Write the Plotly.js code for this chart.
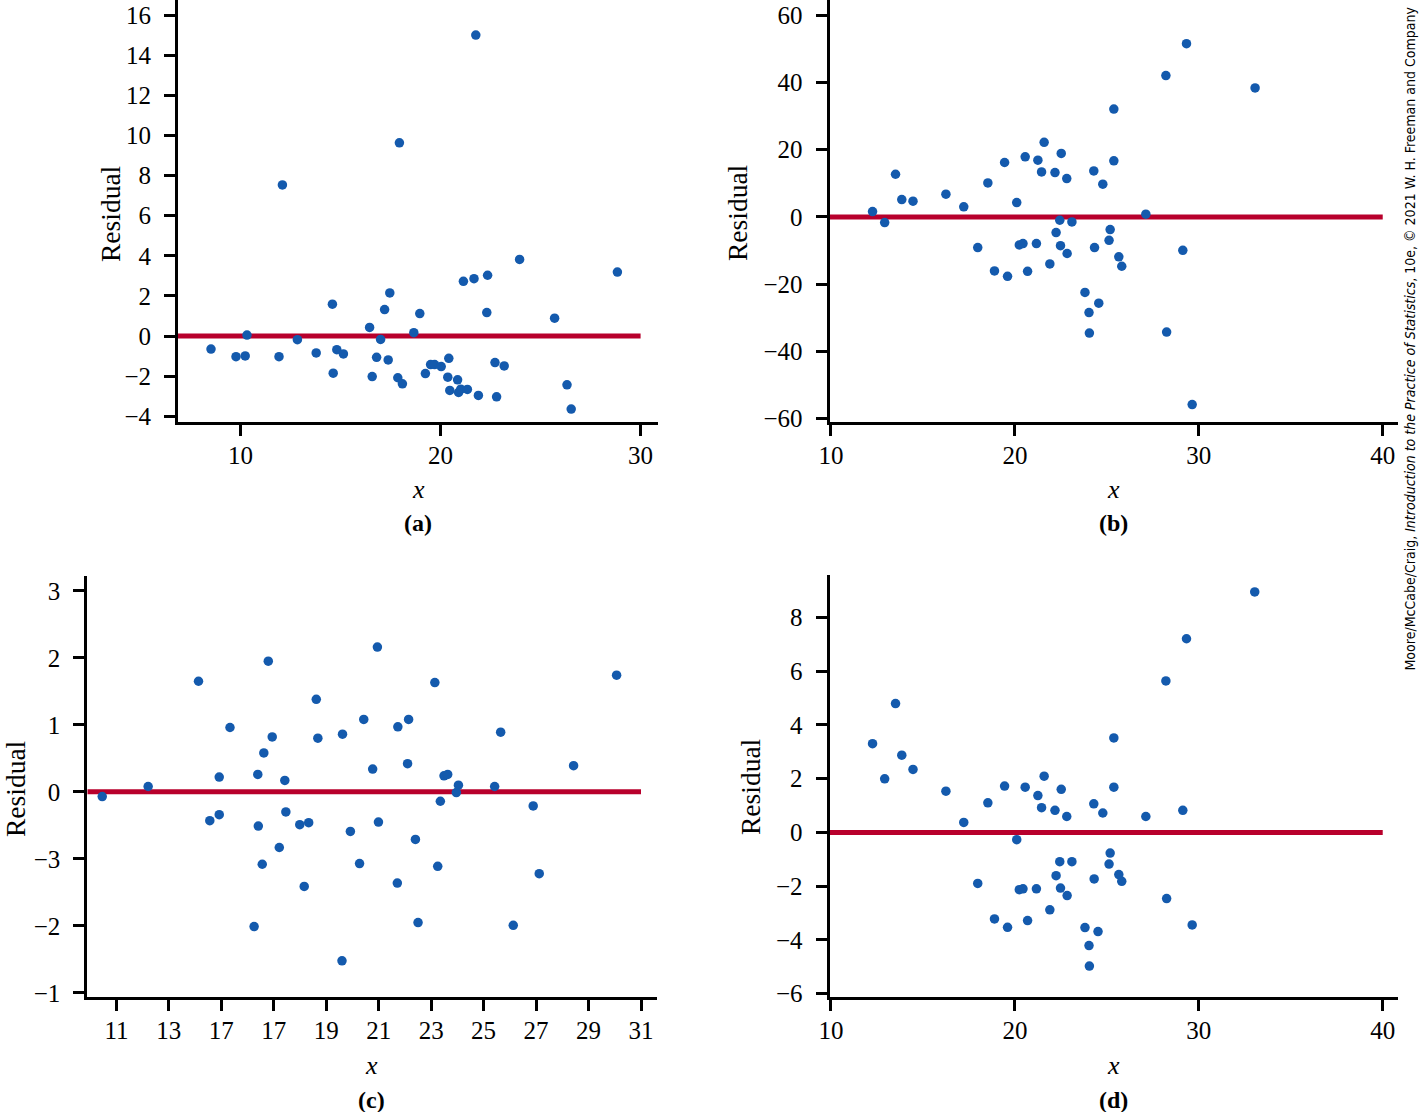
<!DOCTYPE html>
<html>
<head>
<meta charset="utf-8">
<script src="https://cdn.plot.ly/plotly-3.0.1.min.js"></script>
<style>html,body{margin:0;padding:0;background:#fff;}#chart{width:1423px;height:1112px;}</style>
</head>
<body>
<div id="chart"></div>
<script>
// ---------- Panel (a) ----------
const aX = [21.76,17.94,12.09,23.95,28.84,21.14,21.67,22.35,17.46,14.59,17.20,18.96,22.31,25.70,16.45,18.66,10.32,12.84,17.00,8.52,9.77,10.23,11.92,13.78,14.81,15.14,16.80,17.38,14.63,16.58,17.86,18.09,19.24,19.50,19.70,20.03,20.41,20.36,20.85,20.46,20.90,21.01,21.34,21.89,22.72,23.18,22.80,26.32,26.53];
const aY = [15.00,9.63,7.53,3.82,3.19,2.73,2.86,3.03,2.15,1.59,1.32,1.12,1.17,0.89,0.43,0.17,0.05,-0.18,-0.17,-0.65,-1.03,-0.99,-1.03,-0.84,-0.68,-0.89,-1.06,-1.19,-1.85,-2.02,-2.08,-2.38,-1.87,-1.42,-1.42,-1.52,-1.11,-2.05,-2.18,-2.71,-2.81,-2.65,-2.66,-2.96,-1.32,-1.49,-3.03,-2.43,-3.64];

// ---------- Panel (b) ----------
const bX = [29.33,28.21,33.06,25.38,21.59,20.56,21.25,22.52,19.44,25.38,13.51,21.45,22.18,22.82,24.29,24.78,18.53,16.25,13.85,14.46,17.22,20.10,12.26,27.12,12.92,22.44,23.10,22.24,25.18,25.12,17.98,20.24,20.44,21.17,22.48,22.84,24.33,25.65,25.81,21.90,18.89,19.60,20.69,29.13,23.81,24.56,24.03,24.05,28.25,29.64];
const bY = [51.6,42.1,38.4,32.1,22.2,17.9,16.9,18.9,16.2,16.7,12.7,13.4,13.2,11.4,13.7,9.75,10.1,6.77,5.17,4.68,2.99,4.28,1.59,0.80,-1.69,-1.0,-1.49,-4.68,-3.78,-6.97,-9.15,-8.36,-7.96,-7.96,-8.56,-10.9,-9.15,-11.9,-14.7,-14.0,-16.1,-17.7,-16.2,-9.95,-22.5,-25.7,-28.5,-34.6,-34.3,-55.9];

// ---------- Panel (c) ----------
const cX = [20.95,16.79,14.13,23.14,30.07,18.62,20.43,22.14,21.73,15.33,16.94,18.68,19.62,25.65,16.62,22.10,20.77,28.43,14.92,16.39,17.42,23.49,23.63,24.04,12.21,25.42,10.46,23.96,23.35,26.89,17.46,14.56,14.92,16.41,17.99,18.33,20.99,19.92,22.40,17.21,16.56,20.27,23.25,27.12,18.16,21.71,16.25,22.50,26.13,19.60];
const cY = [2.16,1.95,1.65,1.63,1.74,1.38,1.08,1.08,0.97,0.96,0.82,0.80,0.86,0.89,0.58,0.42,0.34,0.39,0.22,0.26,0.17,0.24,0.26,0.10,0.08,0.08,-0.07,-0.01,-0.14,-0.21,-0.30,-0.43,-0.34,-0.51,-0.49,-0.46,-0.45,-0.59,-0.71,-0.83,-1.08,-1.07,-1.11,-1.22,-1.41,-1.36,-2.01,-1.95,-1.99,-2.52];

// ---------- Panel (d) ----------
const dX = [33.04,29.33,28.21,13.51,25.38,12.26,13.85,14.46,12.92,21.59,16.25,19.44,20.56,22.52,25.38,21.25,18.53,21.45,22.18,22.82,24.29,24.78,27.12,29.13,17.22,20.10,25.18,22.44,23.10,25.12,22.24,25.65,25.81,17.98,24.31,20.24,20.44,21.17,22.48,22.84,21.90,28.25,18.89,19.60,20.69,29.64,23.81,24.52,24.03,24.05];
const dY = [8.94,7.20,5.63,4.79,3.51,3.30,2.87,2.34,1.99,2.09,1.53,1.72,1.68,1.60,1.68,1.37,1.10,0.92,0.82,0.59,1.06,0.72,0.59,0.82,0.37,-0.27,-0.77,-1.09,-1.09,-1.18,-1.61,-1.57,-1.82,-1.90,-1.73,-2.13,-2.10,-2.10,-2.07,-2.35,-2.88,-2.46,-3.22,-3.53,-3.28,-3.44,-3.54,-3.69,-4.21,-4.97];

// Zero reference lines (x extent in data units, y = 0)
const refA = [6.87, 30];
const refB = [9.92, 40];
const refC = [9.89, 31];
const refD = [9.92, 40];
const refY = [0, 0];

// Tick labels
const aXTicks = [10, 20, 30];
const bXTicks = [10, 20, 30, 40];
const cXTickVals = [11, 13, 15, 17, 19, 21, 23, 25, 27, 29, 31];
const cXTickText = ['11', '13', '17', '17', '19', '21', '23', '25', '27', '29', '31'];
const cYTickVals = [3, 2, 1, 0, -1, -2, -3];
const cYTickText = ['3', '2', '1', '0', '\u22123', '\u22122', '\u22121'];
const panelLabels = ['(a)', '(b)', '(c)', '(d)'];
const xTitle = 'x';
const yTitle = 'Residual';
const credit = 'Moore/McCabe/Craig, <i>Introduction to the Practice of Statistics</i>, 10e, \u00a9 2021 W. H. Freeman and Company';

const W = 1423, H = 1112;
const dotColor = '#145aad';
const redColor = '#b8002c';
const serif = 'Liberation Serif';

function refTrace(xs, xa, ya) {
  return {x: xs, y: refY, xaxis: xa, yaxis: ya, mode: 'lines', type: 'scatter',
          line: {color: redColor, width: 5}, hoverinfo: 'skip', showlegend: false};
}
function dotTrace(xs, ys, xa, ya) {
  return {x: xs, y: ys, xaxis: xa, yaxis: ya, mode: 'markers', type: 'scatter',
          marker: {color: dotColor, size: 9.5, line: {width: 0}}, showlegend: false, cliponaxis: false};
}

const data = [
  refTrace(refA, 'x', 'y'), dotTrace(aX, aY, 'x', 'y'),
  refTrace(refB, 'x2', 'y2'), dotTrace(bX, bY, 'x2', 'y2'),
  refTrace(refC, 'x3', 'y3'), dotTrace(cX, cY, 'x3', 'y3'),
  refTrace(refD, 'x4', 'y4'), dotTrace(dX, dY, 'x4', 'y4')
];

function ax(extra) {
  return Object.assign({
    showgrid: false, zeroline: false, showline: true, linecolor: '#000', linewidth: 3,
    ticks: 'outside', ticklen: 11, tickwidth: 3, tickcolor: '#000',
    tickfont: {family: serif, size: 25, color: '#000'}, mirror: false, fixedrange: true
  }, extra);
}
function xax(extra) { return ax(Object.assign({ticklabelstandoff: -2}, extra)); }
function yax(extra) { return ax(Object.assign({ticklabelstandoff: 8}, extra)); }

const px = (v) => v / W;
const py = (v) => 1 - v / H;

const layout = {
  width: W, height: H,
  margin: {l: 0, r: 0, t: 0, b: 0, pad: 0},
  paper_bgcolor: '#fff', plot_bgcolor: '#fff',
  font: {family: serif, size: 24, color: '#000'},
  showlegend: false,
  xaxis: xax({domain: [px(178), px(658)], range: [6.87, 30.87], tickvals: aXTicks, anchor: 'y'}),
  yaxis: yax({domain: [py(421.7), py(0)], range: [-4.27, 16.75], tick0: 0, dtick: 2, anchor: 'x'}),
  xaxis2: xax({domain: [px(829.5), px(1398)], range: [9.92, 40.83], tickvals: bXTicks, anchor: 'y2'}),
  yaxis2: yax({domain: [py(421.7), py(0)], range: [-61.0, 64.6], tick0: 0, dtick: 20, anchor: 'x2'}),
  xaxis3: xax({domain: [px(87.3), px(657)], range: [9.89, 31.61], tickvals: cXTickVals, ticktext: cXTickText, anchor: 'y3'}),
  yaxis3: yax({domain: [py(997), py(576)], range: [-3.06, 3.22], tickvals: cYTickVals, ticktext: cYTickText, anchor: 'x3'}),
  xaxis4: xax({domain: [px(829.5), px(1398)], range: [9.92, 40.83], tickvals: bXTicks, anchor: 'y4'}),
  yaxis4: yax({domain: [py(996.7), py(575)], range: [-6.11, 9.57], tick0: 0, dtick: 2, anchor: 'x4'}),
  annotations: []
};

const titleFont = {family: serif, size: 27.5, color: '#000'};
const xTitleFont = {family: serif, size: 26, color: '#000'};
const labFont = {family: serif, size: 24, color: '#000'};
const panels = [
  {cx: 418, xy: 490, ly: 523, rx: 110, ry: 214},
  {cx: 1113.7, xy: 490, ly: 523, rx: 737, ry: 212},
  {cx: 372, xy: 1065, ly: 1100, rx: 15, ry: 789},
  {cx: 1113.7, xy: 1065, ly: 1100, rx: 750, ry: 787}
];
panels.forEach((p, i) => {
  layout.annotations.push({xref: 'paper', yref: 'paper', x: px(p.cx), y: py(p.xy), text: '<i>' + xTitle + '</i>',
    showarrow: false, font: xTitleFont, xanchor: 'center', yanchor: 'middle'});
  layout.annotations.push({xref: 'paper', yref: 'paper', x: px(p.cx), y: py(p.ly), text: '<b>' + panelLabels[i] + '</b>',
    showarrow: false, font: labFont, xanchor: 'center', yanchor: 'middle'});
  layout.annotations.push({xref: 'paper', yref: 'paper', x: px(p.rx), y: py(p.ry), text: yTitle, textangle: -90,
    showarrow: false, font: titleFont, xanchor: 'center', yanchor: 'middle'});
});
layout.annotations.push({xref: 'paper', yref: 'paper', x: px(1410), y: py(338.5), text: credit, textangle: -90,
  showarrow: false, font: {family: 'DejaVu Sans Condensed, Liberation Sans', size: 14, color: '#000'},
  xanchor: 'center', yanchor: 'middle'});

Plotly.newPlot('chart', data, layout, {displayModeBar: false, staticPlot: true});
</script>
</body>
</html>
